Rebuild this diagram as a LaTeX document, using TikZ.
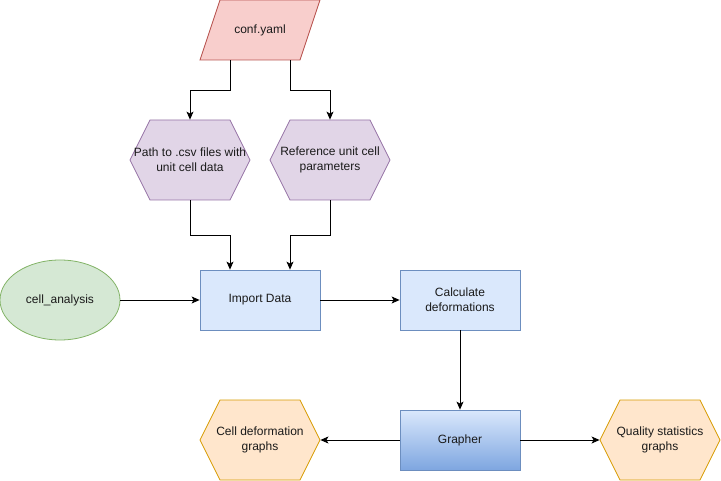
\documentclass[tikz,border=0pt]{standalone}
\usepackage{fontspec}
\setmainfont{Liberation Sans}
\usetikzlibrary{shapes.geometric,shapes.symbols,arrows.meta}

\definecolor{confFill}{HTML}{F8CECC}
\definecolor{confLine}{HTML}{B85450}
\definecolor{paramFill}{HTML}{E1D5E7}
\definecolor{paramLine}{HTML}{9673A6}
\definecolor{mainFill}{HTML}{D5E8D4}
\definecolor{mainLine}{HTML}{82B366}
\definecolor{procFill}{HTML}{DAE8FC}
\definecolor{procLine}{HTML}{6C8EBF}
\definecolor{procDark}{HTML}{7EA6E0}
\definecolor{outFill}{HTML}{FFE6CC}
\definecolor{outLine}{HTML}{D79B00}
\definecolor{txt}{HTML}{1A1A1A}

\tikzset{
  hexa/.style={signal, signal to=west and east, signal pointer angle=126.87,
    minimum width=120pt, minimum height=80pt, inner sep=0pt, line width=0.8pt},
  proc/.style={rectangle, draw=procLine, fill=procFill, line width=0.8pt,
    minimum width=120pt, minimum height=60pt},
  link/.style={->, line width=0.8pt}
}

\begin{document}
\begin{tikzpicture}[x=1pt, y=-1pt, font=\fontsize{12}{15}\selectfont, text=txt,
  >={Stealth[length=8pt,width=7pt,inset=2pt]}]
\useasboundingbox (0,0) rectangle (721,481);

% input file
\filldraw [draw=confLine, fill=confFill, line width=0.8pt]
  (220,0) -- (320,0) -- (300,60) -- (200,60) -- cycle;
\node (conf) at (260,30) [minimum width=120pt, minimum height=60pt, inner sep=0pt] {conf.yaml};

% parameters
\node (csv) at (190,160) [hexa, draw=paramLine, fill=paramFill,
  label={[align=center]center:Path to .csv files with\\unit cell data}] {};
\node (ref) at (330,160) [hexa, draw=paramLine, fill=paramFill,
  label={[align=center]center:Reference unit cell\\parameters}] {};

% main script
\node (cell) at (60,300) [ellipse, draw=mainLine, fill=mainFill, line width=0.8pt,
  minimum width=120pt, minimum height=80pt] {cell\_analysis};

% processing
\node (import) at (260,300) [proc] {Import Data};
\node (calc) at (460,300) [proc, align=center] {Calculate\\deformations};
\node (grapher) at (460,440) [proc, top color=procFill, bottom color=procDark] {Grapher};

% outputs
\node (celldef) at (260,440) [hexa, draw=outLine, fill=outFill,
  label={[align=center]center:Cell deformation\\graphs}] {};
\node (quality) at (660,440) [hexa, draw=outLine, fill=outFill,
  label={[align=center]center:Quality statistics\\graphs}] {};

\draw [link] ([xshift=-30pt]conf.south) -- ++(0,30) -| (csv.north);
\draw [link] ([xshift=30pt]conf.south) -- ++(0,30) -| (ref.north);
\draw [link] (csv.south) -- ++(0,35) -| ([xshift=-30pt]import.north);
\draw [link] (ref.south) -- ++(0,35) -| ([xshift=30pt]import.north);
\draw [link] (cell.east) -- (import.west);
\draw [link] (import.east) -- (calc.west);
\draw [link] (calc.south) -- (grapher.north);
\draw [link] (grapher.west) -- (celldef.east);
\draw [link] (grapher.east) -- (quality.west);
\end{tikzpicture}
\end{document}
